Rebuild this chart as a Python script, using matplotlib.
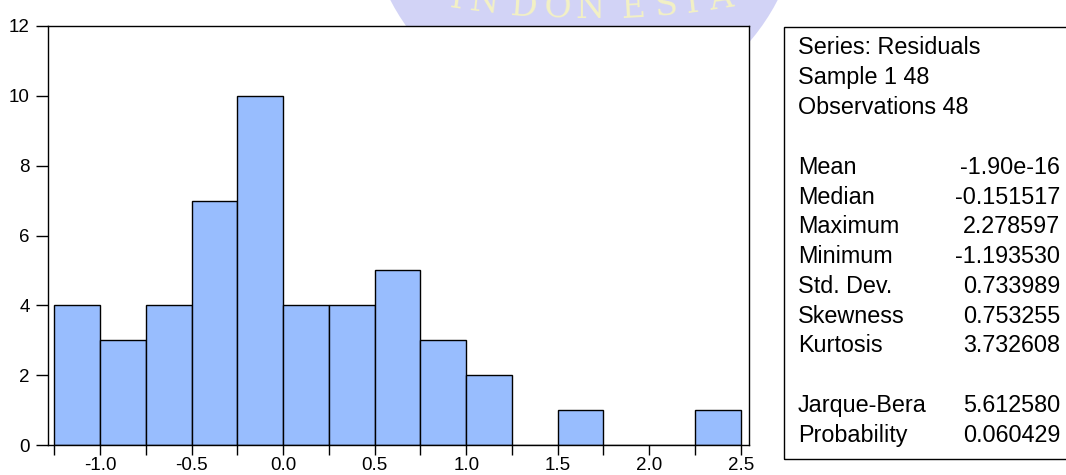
import numpy as np
import matplotlib
matplotlib.use("Agg")
import matplotlib.pyplot as plt
from matplotlib.patches import Rectangle, Ellipse

plt.rcParams['font.family'] = ['Liberation Sans', 'DejaVu Sans']

# histogram of residuals (bins of width 0.25)
bin_left = [-1.25, -1.0, -0.75, -0.5, -0.25, 0.0, 0.25, 0.5, 0.75, 1.0, 1.25, 1.5, 1.75, 2.0, 2.25]
counts = [4, 3, 4, 7, 10, 4, 4, 5, 3, 2, 0, 1, 0, 0, 1]
bin_width = 0.25

xticks = [-1.0, -0.5, 0.0, 0.5, 1.0, 1.5, 2.0, 2.5]
yticks = [0, 2, 4, 6, 8, 10, 12]

stat_header = ["Series: Residuals", "Sample 1 48", "Observations 48"]
stat_names = ["Mean", "Median", "Maximum", "Minimum", "Std. Dev.", "Skewness", "Kurtosis"]
stat_values = ["-1.90e-16", "-0.151517", "2.278597", "-1.193530", "0.733989", "0.753255", "3.732608"]
test_names = ["Jarque-Bera", "Probability"]
test_values = ["5.612580", "0.060429"]

W, H = 1066, 475
fig = plt.figure(figsize=(W / 100, H / 100), dpi=100)

# faint watermark at the top (partial seal)
seal = Ellipse((584 / W, (H + 100) / H), 436 / W, 436 / H, transform=fig.transFigure,
               facecolor='#d2d3f6', edgecolor='none', zorder=-2)
fig.add_artist(seal)
letters = "INDONESIA"
letter_x = [455, 483, 522, 557, 590, 633, 667, 693, 722]
R = 900
for ch, lx in zip(letters, letter_x):
    dx = lx - 589
    ang = np.degrees(np.arcsin(dx / R))
    rise = R - np.sqrt(R ** 2 - dx ** 2)
    fig.text(lx / W, (H - 18 + rise) / H, ch, family='DejaVu Serif', fontsize=24,
             color='#f3f1c4', ha='center', va='baseline', rotation=ang,
             rotation_mode='anchor', zorder=-1)

ax = fig.add_axes([48 / W, (H - 445) / H, (749 - 48) / W, (445 - 26) / H])
ax.set_facecolor('white')
ax.bar(bin_left, counts, width=bin_width, align='edge', color='#98bdfe',
       edgecolor='black', linewidth=1.0)

ax.set_xlim(-1.285, 2.545)
ax.set_ylim(0, 12)
ax.set_xticks(xticks)
ax.set_xticks(np.arange(-1.25, 2.51, 0.25), minor=True)
ax.set_yticks(yticks)
ax.set_xticklabels([f"{v:.1f}" for v in xticks])
ax.tick_params(axis='x', which='both', direction='out', length=7, width=1, labelsize=13.5, pad=2)
ax.tick_params(axis='y', direction='out', length=9, width=1, labelsize=13.5, pad=4)
for s in ax.spines.values():
    s.set_linewidth(1.0)

# statistics box
box = Rectangle((784 / W, (H - 459) / H), 300 / W, (459 - 27) / H, transform=fig.transFigure,
                facecolor='none', edgecolor='black', linewidth=1.0)
fig.add_artist(box)

step = 29.8
y0 = 48
lx_left = 798 / W
lx_right = 1060 / W
fs = 16.8
for i, t in enumerate(stat_header):
    fig.text(lx_left, (H - (y0 + i * step)) / H, t, fontsize=fs, va='center', ha='left')
for i, (n, v) in enumerate(zip(stat_names, stat_values)):
    yy = (H - (y0 + (4 + i) * step)) / H
    fig.text(lx_left, yy, n, fontsize=fs, va='center', ha='left')
    fig.text(lx_right, yy, v, fontsize=fs, va='center', ha='right')
for i, (n, v) in enumerate(zip(test_names, test_values)):
    yy = (H - (y0 + (12 + i) * step)) / H
    fig.text(lx_left, yy, n, fontsize=fs, va='center', ha='left')
    fig.text(lx_right, yy, v, fontsize=fs, va='center', ha='right')

fig.savefig("out.png", dpi=100)
